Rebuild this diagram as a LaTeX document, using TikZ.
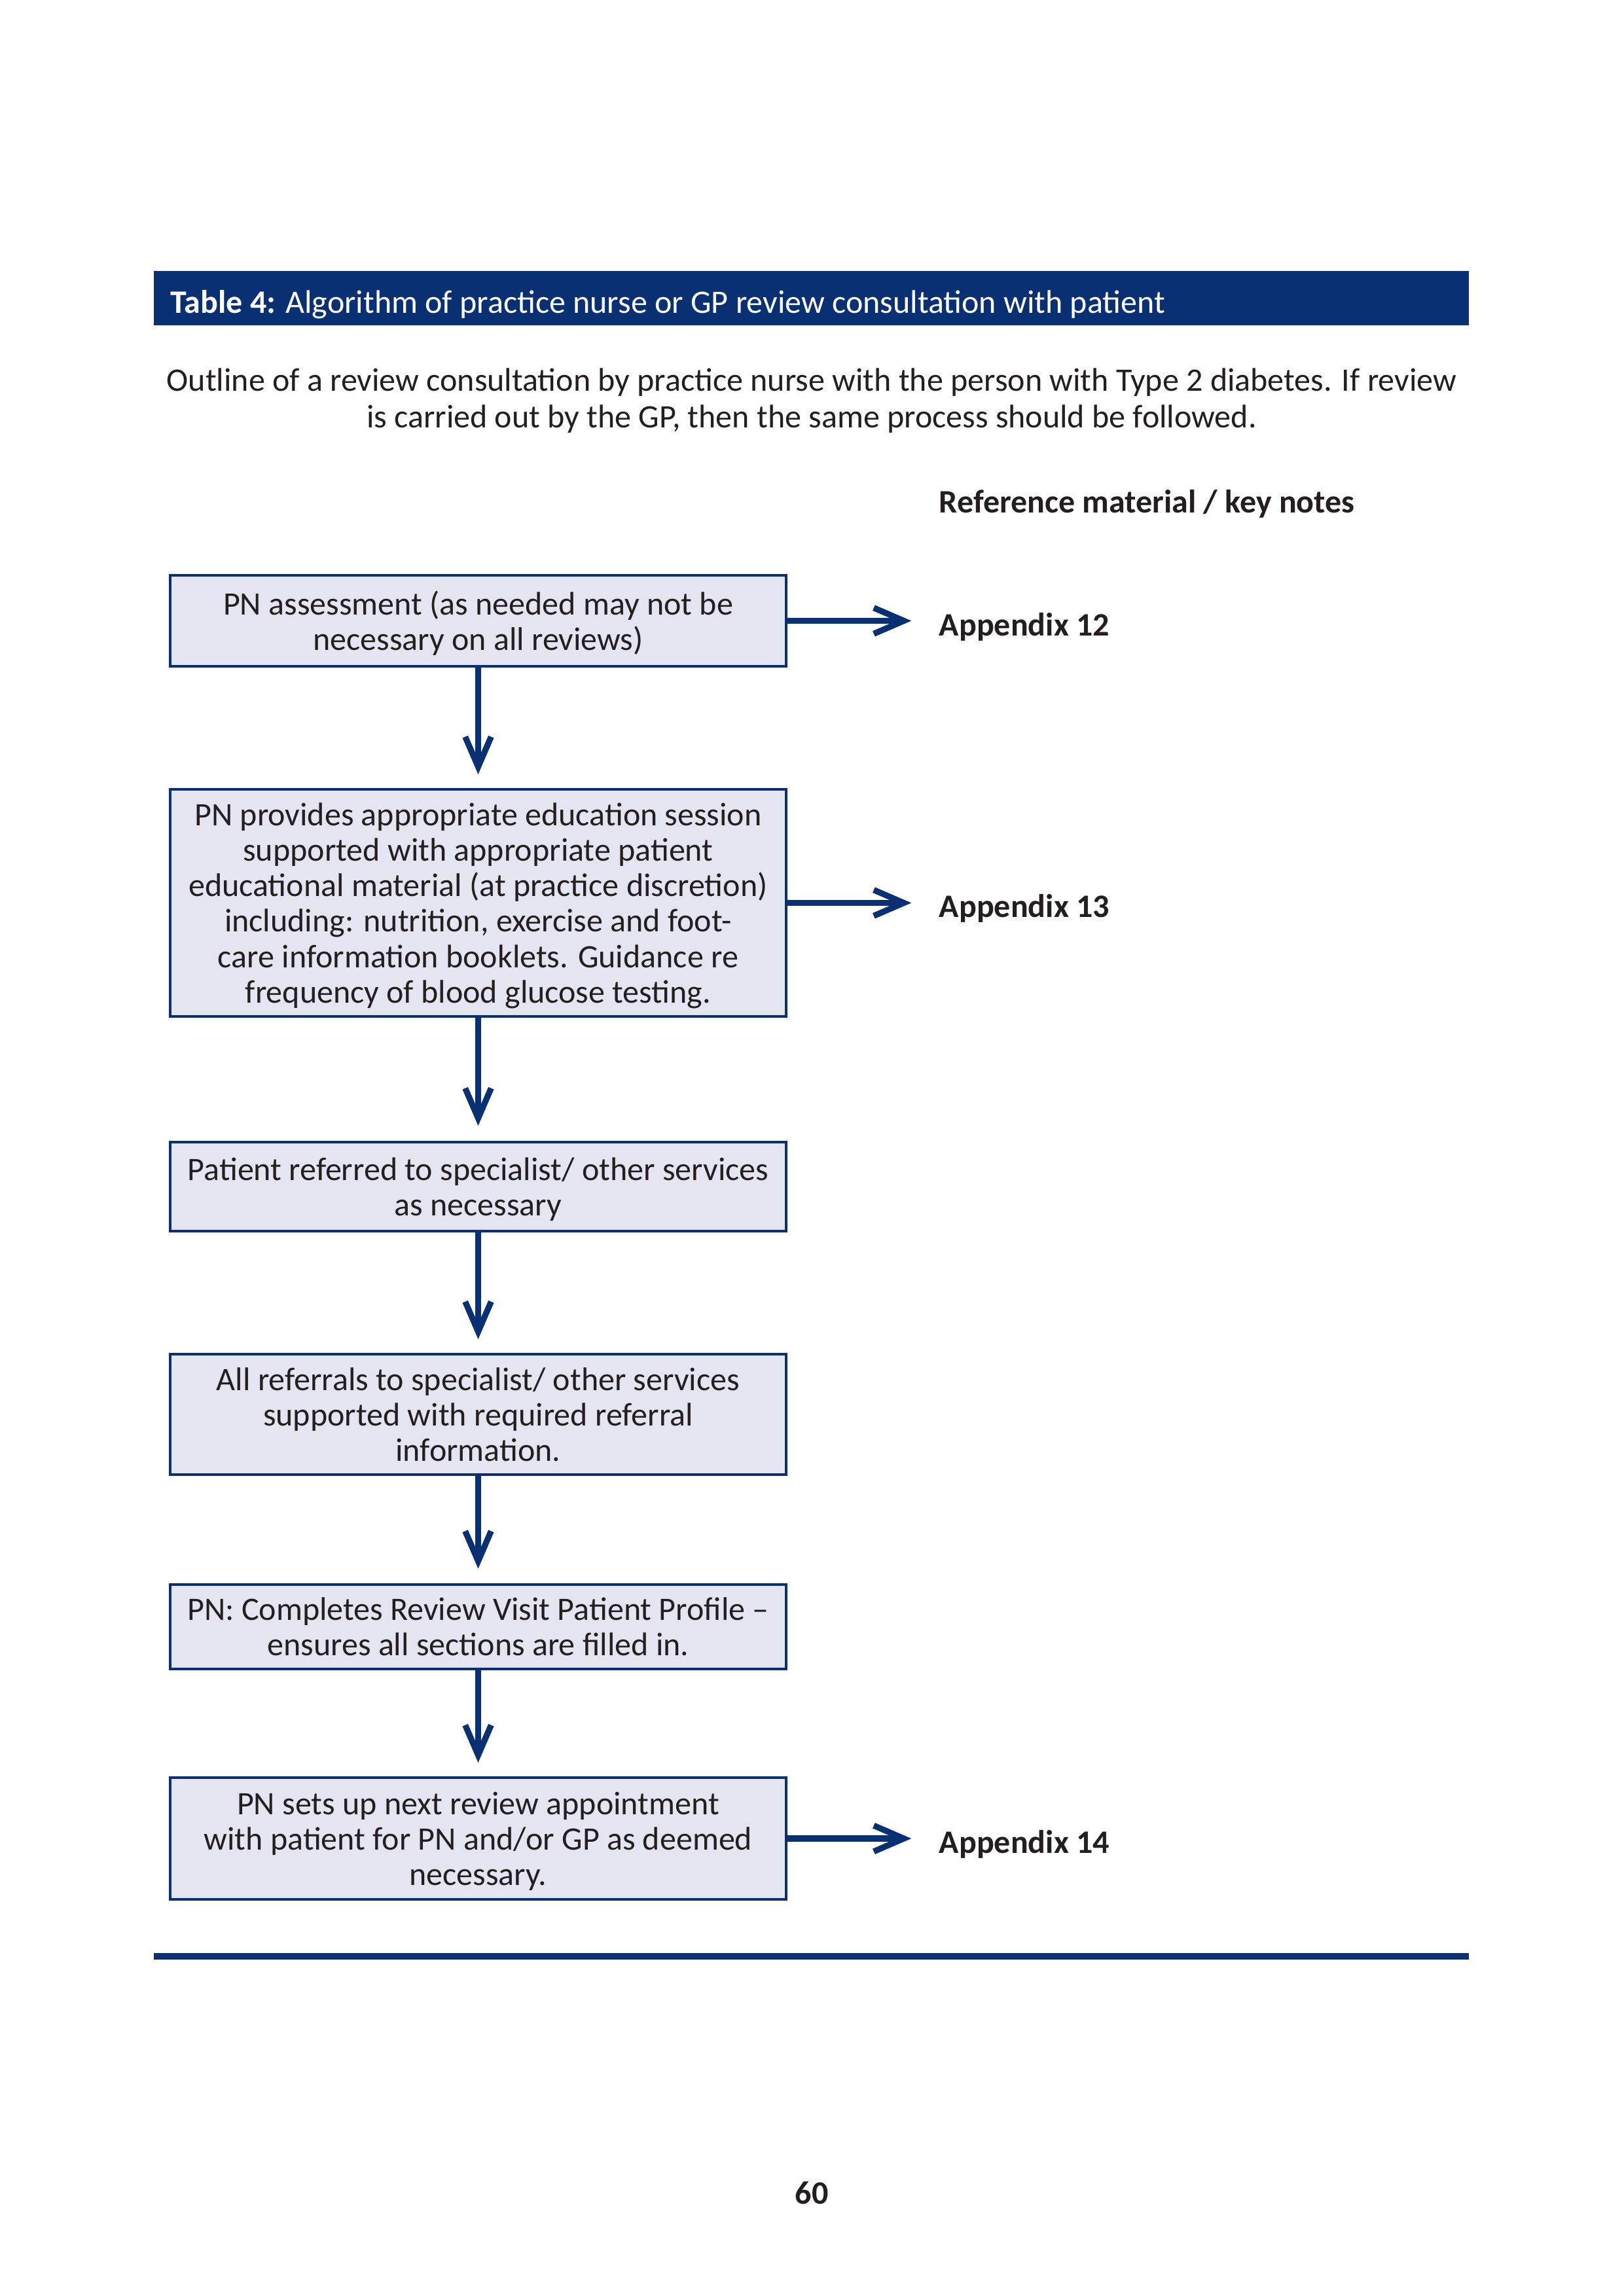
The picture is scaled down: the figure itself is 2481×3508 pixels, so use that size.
\documentclass[tikz,border=0pt]{standalone}
\usepackage{fontspec}
\setmainfont{Carlito}
\usetikzlibrary{arrows.meta}
\definecolor{navy}{RGB}{10,48,116}
\definecolor{boxfill}{RGB}{228,229,240}
\definecolor{txt}{RGB}{35,31,32}
\begin{document}
\begin{tikzpicture}[x=0.23993pt,y=-0.23993pt,
  font=\fontsize{12}{13.4}\selectfont, text=txt,
  flowbox/.style={draw=navy, fill=boxfill, line width=1pt, minimum width=225.8pt, align=center, inner sep=0pt, text depth=-1pt, font=\fontsize{12}{13}\selectfont},
  flowarrow/.style={draw=navy, line width=2.2pt, -{Straight Barb[length=11pt,width=9.5pt]}},
  applabel/.style={anchor=west, inner sep=0pt, font=\fontsize{12}{13.4}\selectfont\bfseries, text height=1.6ex, text depth=0.4ex}
]
\useasboundingbox (0,0) rectangle (2481,3508);
\fill[white] (0,0) rectangle (2481,3508);
% header bar
\fill[navy] (235,414) rectangle (2244,497);
\node[anchor=west, inner sep=0pt, text=white, text height=1.6ex, text depth=0.4ex] (title) at (260,467) {\textbf{Table 4:} Algorithm of practice nurse or GP review consultation with patient};
% subtitle
\node[align=center, inner sep=0pt] (sub) at (1240,612) {Outline of a review consultation by practice nurse with the person with Type 2 diabetes. If review\\ is carried out by the GP, then the same process should be followed.};
\node[applabel] (refhead) at (1434,772) {Reference material / key notes};
% boxes
\node[flowbox, minimum height=33.35pt] (b1) at (730.5,948.5) {PN assessment (as needed may not be\\ necessary on all reviews)};
\node[flowbox, minimum height=83.26pt] (b2) at (730.5,1379.5) {PN provides appropriate education session\\ supported with appropriate patient\\ educational material (at practice discretion)\\ including: nutrition, exercise and foot-\\ care information booklets. Guidance re\\ frequency of blood glucose testing.};
\node[flowbox, minimum height=32.6pt] (b3) at (730.5,1813) {Patient referred to specialist/ other services\\ as necessary};
\node[flowbox, minimum height=44.1pt] (b4) at (730.5,2161) {All referrals to specialist/ other services\\ supported with required referral\\ information.};
\node[flowbox, minimum height=31pt] (b5) at (730.5,2485.5) {PN: Completes Review Visit Patient Profile --\\ ensures all sections are filled in.};
\node[flowbox, minimum height=44.6pt] (b6) at (730.5,2809) {PN sets up next review appointment\\ with patient for PN and/or GP as deemed\\ necessary.};
% appendix labels
\node[applabel] (a12) at (1434,960) {Appendix 12};
\node[applabel] (a13) at (1434,1390) {Appendix 13};
\node[applabel] (a14) at (1434,2820) {Appendix 14};
% down arrows
\draw[flowarrow, shorten >=5pt] (b1.south) -- (b2.north);
\draw[flowarrow, shorten >=5.5pt] (b2.south) -- (b3.north);
\draw[flowarrow, shorten >=5pt] (b3.south) -- (b4.north);
\draw[flowarrow, shorten >=5.3pt] (b4.south) -- (b5.north);
\draw[flowarrow, shorten >=5pt] (b5.south) -- (b6.north);
% right arrows
\draw[flowarrow, shorten >=10pt] (b1.east) -- (b1.east -| a12.west);
\draw[flowarrow, shorten >=10pt] (b2.east) -- (b2.east -| a13.west);
\draw[flowarrow, shorten >=10pt] (b6.east) -- (b6.east -| a14.west);
% bottom rule
\draw[navy, line width=2.6pt] (235,2989) -- (2244,2989);
% page number
\node[inner sep=0pt, font=\fontsize{12}{13.4}\selectfont\bfseries] (pg) at (1240,3351) {60};
\end{tikzpicture}
\end{document}
